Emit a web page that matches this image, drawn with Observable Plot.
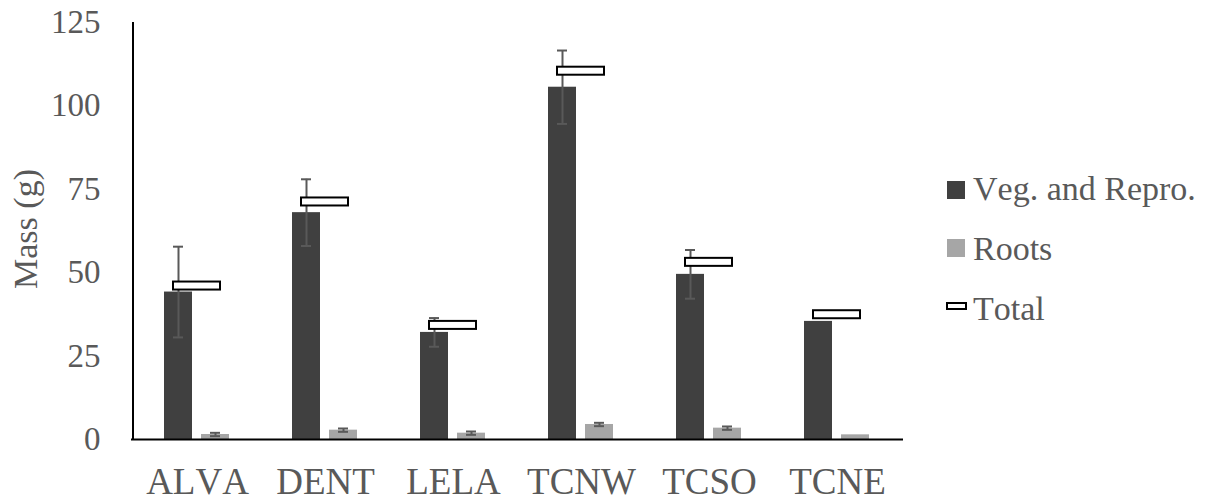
<!DOCTYPE html>
<html>
<head>
<meta charset="utf-8">
<script src="https://cdn.jsdelivr.net/npm/d3@7"></script>
<script src="https://cdn.jsdelivr.net/npm/@observablehq/plot@0.6"></script>
<style>
  body { margin: 0; background: white; }
  #wrap { position: relative; width: 1209px; height: 503px; }
  #wrap svg { position: absolute; left: 0; top: 0; }
  #wrap svg text { font-family: "Liberation Serif", "Times New Roman", serif; font-kerning: none; }
</style>
</head>
<body>
<div id="wrap"></div>
<script>
const categories = ["ALVA", "DENT", "LELA", "TCNW", "TCSO", "TCNE"];
const vegRepro   = [44.2, 68.0, 32.1, 105.6, 49.5, 35.4];
const vegErr     = [13.6, 10.0, 4.3, 11.0, 7.3, 0];
const roots      = [1.5, 2.8, 1.9, 4.5, 3.4, 1.4];
const rootsErr   = [0.5, 0.5, 0.5, 0.5, 0.5, 0];
const totals     = [46.0, 71.2, 34.2, 110.4, 53.1, 37.4];
const yTicks     = [0, 25, 50, 75, 100, 125];
const seriesNames = ["Veg. and Repro.", "Roots", "Total"];
const yLabel = "Mass (g)";

const rows = categories.map((c, i) => ({
  cat: c, veg: vegRepro[i], vegErr: vegErr[i], roots: roots[i], rootsErr: rootsErr[i], total: totals[i]
}));
const vegE = rows.filter(d => d.vegErr > 0);
const rootE = rows.filter(d => d.rootsErr > 0);

const chart = Plot.plot({
  width: 1209,
  height: 503,
  marginLeft: 131,
  marginRight: 306,
  marginTop: 22,
  marginBottom: 64,
  style: { fontFamily: "'Liberation Serif', 'Times New Roman', serif", background: "white" },
  x: { domain: categories, paddingInner: 0, paddingOuter: 0, label: null },
  y: { domain: [0, 125], label: null },
  marks: [
    Plot.axisY({ ticks: yTicks, tickSize: 0, tickPadding: 31, fontSize: 33, fill: "#595959", label: null }),
    Plot.axisX({ tickSize: 0, tickPadding: 28, fontSize: 37, fill: "#595959", label: null }),
    Plot.barY(rows, { x: "cat", y: "veg", fill: "#404040", insetLeft: 31, insetRight: 69 }),
    Plot.barY(rows, { x: "cat", y: "roots", fill: "#a6a6a6", insetLeft: 68, insetRight: 32 }),
    Plot.ruleX(vegE, { x: "cat", y1: d => d.veg - d.vegErr, y2: d => d.veg + d.vegErr, dx: -19, stroke: "#595959", strokeWidth: 2 }),
    Plot.tickY(vegE, { x: "cat", y: d => d.veg + d.vegErr, insetLeft: 40, insetRight: 78, stroke: "#595959", strokeWidth: 2 }),
    Plot.tickY(vegE, { x: "cat", y: d => d.veg - d.vegErr, insetLeft: 40, insetRight: 78, stroke: "#595959", strokeWidth: 2 }),
    Plot.ruleX(rootE, { x: "cat", y1: d => d.roots - d.rootsErr, y2: d => d.roots + d.rootsErr, dx: 18, stroke: "#595959", strokeWidth: 2 }),
    Plot.tickY(rootE, { x: "cat", y: d => d.roots + d.rootsErr, insetLeft: 77, insetRight: 41, stroke: "#595959", strokeWidth: 2 }),
    Plot.tickY(rootE, { x: "cat", y: d => d.roots - d.rootsErr, insetLeft: 77, insetRight: 41, stroke: "#595959", strokeWidth: 2 }),
    Plot.barY(rows, { x: "cat", y1: d => d.total - 1.2, y2: d => d.total + 1.2, insetLeft: 40, insetRight: 41, fill: "white", stroke: "black", strokeWidth: 2 }),
    Plot.ruleY([0], { stroke: "black", strokeWidth: 2 }),
    Plot.ruleX([categories[0]], { y1: 0, y2: 125, dx: -64.5, stroke: "black", strokeWidth: 2 })
  ]
});
document.getElementById("wrap").appendChild(chart);

// Legend and y-axis title overlay
const ov = d3.select("#wrap").append("svg")
  .attr("width", 1209).attr("height", 503)
  .style("pointer-events", "none");

ov.append("text")
  .attr("transform", "translate(37,229) rotate(-90)")
  .attr("text-anchor", "middle")
  .attr("font-size", 34)
  .attr("fill", "#595959")
  .text(yLabel);

const lg = ov.append("g").attr("font-size", 34).attr("fill", "#595959");
lg.append("rect").attr("x", 947).attr("y", 181).attr("width", 18).attr("height", 18).attr("fill", "#404040");
lg.append("rect").attr("x", 947).attr("y", 239).attr("width", 18).attr("height", 18).attr("fill", "#a6a6a6");
lg.append("rect").attr("x", 947).attr("y", 303).attr("width", 19).attr("height", 6).attr("fill", "white").attr("stroke", "black").attr("stroke-width", 2);
const baselines = [199.5, 260, 319.5];
seriesNames.forEach((s, i) => {
  lg.append("text").attr("x", 973).attr("y", baselines[i]).text(s);
});
</script>
</body>
</html>
